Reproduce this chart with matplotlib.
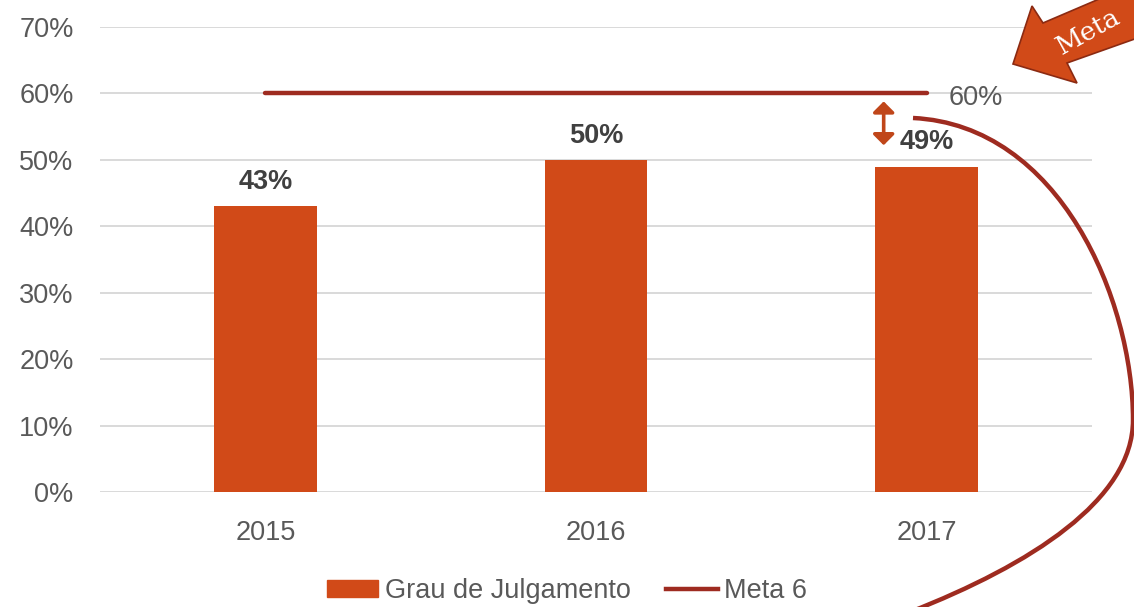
import matplotlib
matplotlib.use("Agg")
import matplotlib.pyplot as plt
from matplotlib.patches import Polygon, PathPatch, Patch, FancyArrowPatch
from matplotlib.path import Path
from matplotlib.lines import Line2D

# data
years = ['2015', '2016', '2017']
grau = [43, 50, 49]
meta = [60, 60, 60]

bar_color = '#D14A18'
meta_color = '#9E2B20'
text_grey = '#595959'

plt.rcParams['font.family'] = ['Liberation Sans', 'DejaVu Sans']
FS = 19.5

W, H = 1134, 607
fig = plt.figure(figsize=(W / 100, H / 100), dpi=100)
ax = fig.add_axes([100 / W, 1 - 492 / H, 992 / W, 465 / H])

def px(x, y):
    # pixel position -> figure fraction
    return (x / W, 1 - y / H)

x = list(range(len(years)))
ax.bar(x, grau, width=0.31, color=bar_color, zorder=2)
ax.plot(x, meta, color=meta_color, lw=3.2, solid_capstyle='round', zorder=3)

for xi, v in zip(x, grau):
    ax.annotate('%d%%' % v, (xi, v), xytext=(0, 8), textcoords='offset points',
                ha='center', va='bottom', fontsize=FS, fontweight='bold', color='#404040')
ax.annotate('%d%%' % meta[-1], (x[-1], meta[-1]), xytext=(16, -3), textcoords='offset points',
            ha='left', va='center', fontsize=FS, color=text_grey)

ax.set_xlim(-0.5, 2.5)
ax.set_ylim(0, 70)
ax.set_yticks(range(0, 71, 10))
ax.set_yticklabels(['%d%%' % t for t in range(0, 71, 10)])
ax.set_xticks(x)
ax.set_xticklabels(years)
ax.tick_params(length=0, labelsize=FS, labelcolor=text_grey)
ax.tick_params(axis='x', pad=20)
ax.tick_params(axis='y', pad=19)
ax.grid(axis='y', color='#D9D9D9', lw=1.4, zorder=0)
ax.set_axisbelow(True)
for s in ax.spines.values():
    s.set_visible(False)

# small double arrow between meta and 2017
ax.add_patch(FancyArrowPatch((1.87, 58.8), (1.87, 52.2),
                             arrowstyle='<|-|>,head_length=0.4,head_width=0.4',
                             mutation_scale=16, color='#C0461A', lw=2.6, zorder=4,
                             shrinkA=0, shrinkB=0))

# legend
handles = [Patch(color=bar_color), Line2D([], [], color=meta_color, lw=3.2)]
fig.legend(handles, ['Grau de Julgamento', 'Meta 6'], loc='center', bbox_to_anchor=(0.5, 1 - 591 / H),
           ncol=2, frameon=False, fontsize=FS, labelcolor=text_grey, handlelength=1.9,
           handletextpad=0.25, columnspacing=1.3, handleheight=0.6)

# big "Meta" arrow, upper right
arrow_pts = [px(1013, 64), px(1032, 6), px(1043, 23), px(1160, -27),
             px(1160, 30), px(1067, 63), px(1077, 83)]
fig.patches.append(Polygon(arrow_pts, closed=True, transform=fig.transFigure,
                           facecolor=bar_color, edgecolor='#8B2A12', lw=1.2))
fig.text(*px(1088, 32), 'Meta', rotation=29, ha='center', va='center', color='white',
         fontsize=19, family='DejaVu Serif')

# curved line on the right
verts = [px(913, 118), px(1060, 125), px(1133, 300), px(1133, 420),
         px(1133, 500), px(1030, 565), px(910, 612)]
codes = [Path.MOVETO] + [Path.CURVE4] * 6
fig.patches.append(PathPatch(Path(verts, codes), transform=fig.transFigure,
                             facecolor='none', edgecolor=meta_color, lw=3.2))

fig.savefig('out.png', dpi=100)
